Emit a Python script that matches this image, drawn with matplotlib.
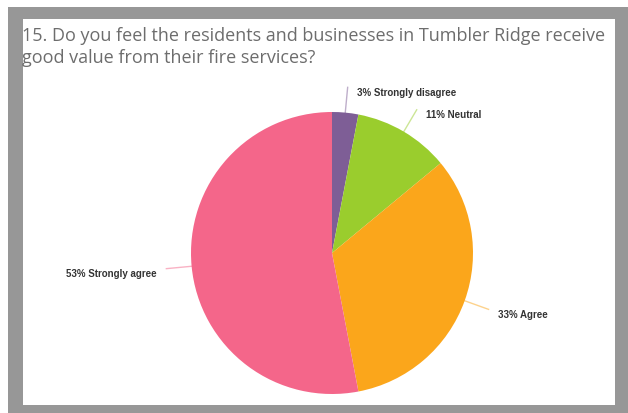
import matplotlib.pyplot as plt
from matplotlib.patches import Rectangle
import numpy as np

# 데이터
labels = ['Strongly disagree', 'Neutral', 'Agree', 'Strongly agree']
values = [3, 11, 33, 53]
colors = ['#7e5e96', '#9acd2d', '#fba61b', '#f4668a']
title = ('15. Do you feel the residents and businesses in Tumbler Ridge receive\n'
         'good value from their fire services?')

W, H = 628, 414
fig = plt.figure(figsize=(W / 100, H / 100), dpi=100)

# 회색 테두리 + 흰 바탕
fig.patches.append(Rectangle((8 / W, 0), 1 - 8 / W, 1 - 8 / H, transform=fig.transFigure,
                             facecolor='#979797', edgecolor='none', zorder=-2))
fig.patches.append(Rectangle((23 / W, 8 / H), (615 - 23) / W, (406 - 20) / H,
                             transform=fig.transFigure, facecolor='white',
                             edgecolor='none', zorder=-1))

# 제목
lines = title.split('\n')
fig.text(22 / W, 1 - 41 / H, lines[0], fontsize=13, color='#6d6d6d',
         family='Open Sans', va='baseline')
fig.text(22 / W, 1 - 63 / H, lines[1], fontsize=13, color='#6d6d6d',
         family='Open Sans', va='baseline')

# 파이
cx, cy, r = 332, 254, 141
ax = fig.add_axes([(cx - r) / W, (H - cy - r) / H, 2 * r / W, 2 * r / H])
ax.set_zorder(2)
wedges, _ = ax.pie(values, colors=colors, startangle=90, counterclock=False,
                   radius=1, wedgeprops=dict(linewidth=0))
ax.set_xlim(-1, 1)
ax.set_ylim(-1, 1)
ax.set_aspect('equal')
ax.axis('off')

# 라벨 + 지시선
for w, lab, v, c in zip(wedges, labels, values, colors):
    ang = np.deg2rad((w.theta1 + w.theta2) / 2)
    x0, y0 = np.cos(ang), np.sin(ang)
    x1, y1 = 1.18 * x0, 1.18 * y0
    ax.plot([x0, x1], [y0, y1], color=c, alpha=0.5, lw=1, clip_on=False)
    side = 1 if x0 > 0 else -1
    ax.annotate(f'{v}% {lab}', (x1, y1), xytext=(7 * side, -3),
                textcoords='offset points', ha='left' if side > 0 else 'right',
                va='center', fontsize=7, fontweight='bold', color='#333333',
                family='Liberation Sans', annotation_clip=False)

fig.savefig('out.png', dpi=100)
